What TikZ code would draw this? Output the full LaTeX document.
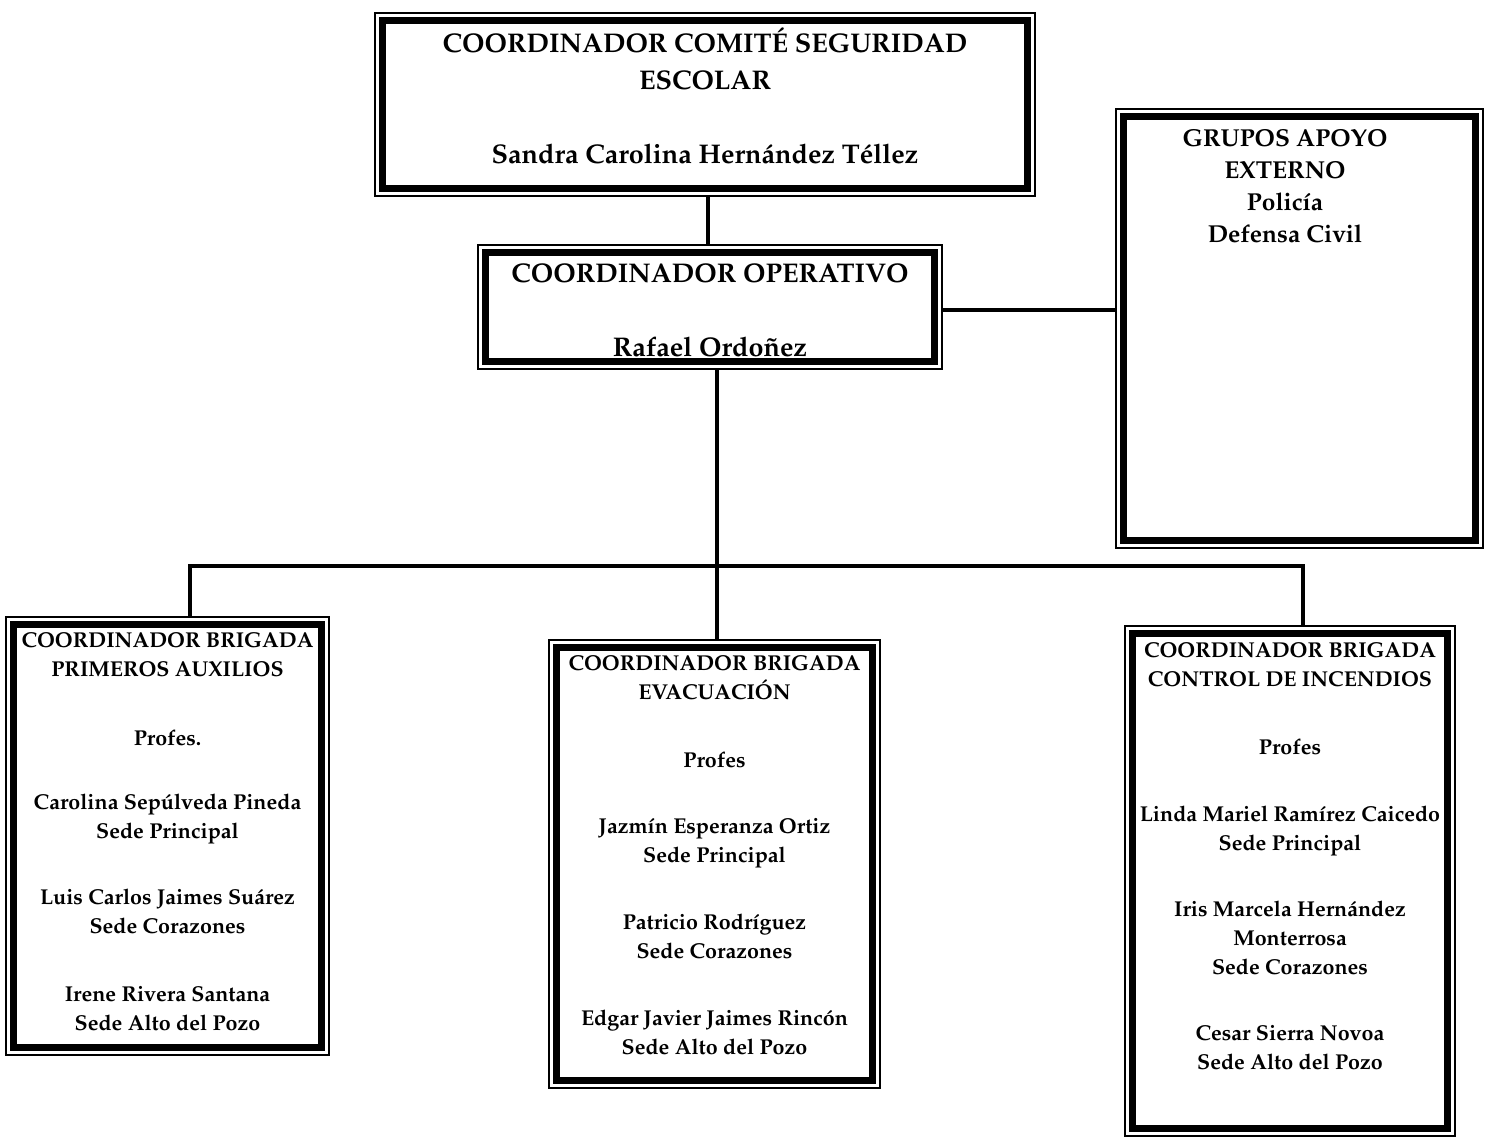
\documentclass[tikz,border=0pt]{standalone}
\usepackage[T1]{fontenc}
\renewcommand{\rmdefault}{ppl}
\begin{document}
\begin{tikzpicture}[x=1pt,y=-1pt,
  dbox/.style={draw, line width=2pt, inner sep=0pt,
    path picture={\draw[line width=7pt]
      ([shift={(7.5pt,-7.5pt)}]path picture bounding box.north west) rectangle
      ([shift={(-7.5pt,7.5pt)}]path picture bounding box.south east);}},
  conn/.style={line width=4pt, line join=miter},
  bigtxt/.style={anchor=north, inner sep=0pt, align=center, font=\fontsize{27}{37}\selectfont\bfseries},
  midtxt/.style={anchor=north, inner sep=0pt, align=center, font=\fontsize{24.5}{32}\selectfont\bfseries},
  smltxt/.style={anchor=north, inner sep=0pt, align=center, font=\fontsize{21.5}{29}\selectfont\bfseries}]
\useasboundingbox (0,0) rectangle (1485,1142);

% boxes
\node[dbox, minimum width=660pt, minimum height=183pt] (top) at (705,104.5) {};
\node[dbox, minimum width=464pt, minimum height=124pt] (op) at (710,307) {};
\node[dbox, minimum width=367pt, minimum height=439pt] (grp) at (1299.5,328.5) {};
\node[dbox, minimum width=323pt, minimum height=438pt] (left) at (167.5,836) {};
\node[dbox, minimum width=331pt, minimum height=448pt] (mid) at (714.5,864) {};
\node[dbox, minimum width=330pt, minimum height=510pt] (right) at (1290,881) {};

% texts (north = first baseline - 0.7*baselineskip)
\node[bigtxt] (toptxt) at (705,26) {\strut COORDINADOR COMITÉ SEGURIDAD\\ESCOLAR\\[37pt]Sandra Carolina Hernández Téllez};
\node[bigtxt] (optxt) at (710,256) {\strut COORDINADOR OPERATIVO\\[37pt]Rafael Ordoñez};
\node[midtxt] (grptxt) at (1285,123.6) {\strut GRUPOS APOYO\\EXTERNO\\Policía\\Defensa Civil};
\node[smltxt] (lefttxt) at (167.5,626.7) {\strut COORDINADOR BRIGADA\\PRIMEROS AUXILIOS\\[40pt]Profes.\\[35pt]Carolina Sepúlveda Pineda\\Sede Principal\\[37pt]Luis Carlos Jaimes Suárez\\Sede Corazones\\[39pt]Irene Rivera Santana\\Sede Alto del Pozo};
\node[smltxt] (midtxt) at (714.5,649.7) {\strut COORDINADOR BRIGADA\\EVACUACIÓN\\[39pt]Profes\\[37pt]Jazmín Esperanza Ortiz\\Sede Principal\\[38pt]Patricio Rodríguez\\Sede Corazones\\[38pt]Edgar Javier Jaimes Rincón\\Sede Alto del Pozo};
\node[smltxt] (righttxt) at (1290,636.7) {\strut COORDINADOR BRIGADA\\CONTROL DE INCENDIOS\\[39pt]Profes\\[38pt]Linda Mariel Ramírez Caicedo\\Sede Principal\\[37pt]Iris Marcela Hernández\\Monterrosa\\Sede Corazones\\[37pt]Cesar Sierra Novoa\\Sede Alto del Pozo};

% connectors
\coordinate (j) at (717,566);
\coordinate (lj) at (190,566);
\coordinate (rj) at (1303,566);
\draw[conn] ([xshift=3pt]top.south) -- ([xshift=3pt]top.south |- op.north);
\draw[conn] ([yshift=-3pt]op.east) -- ([yshift=-3pt]op.east -| grp.west);
\draw[conn] (op.south -| j) -- (j) -- (j |- mid.north);
\draw[conn] (lj |- left.north) -- (lj) -- (rj) -- (rj |- right.north);
\end{tikzpicture}
\end{document}
